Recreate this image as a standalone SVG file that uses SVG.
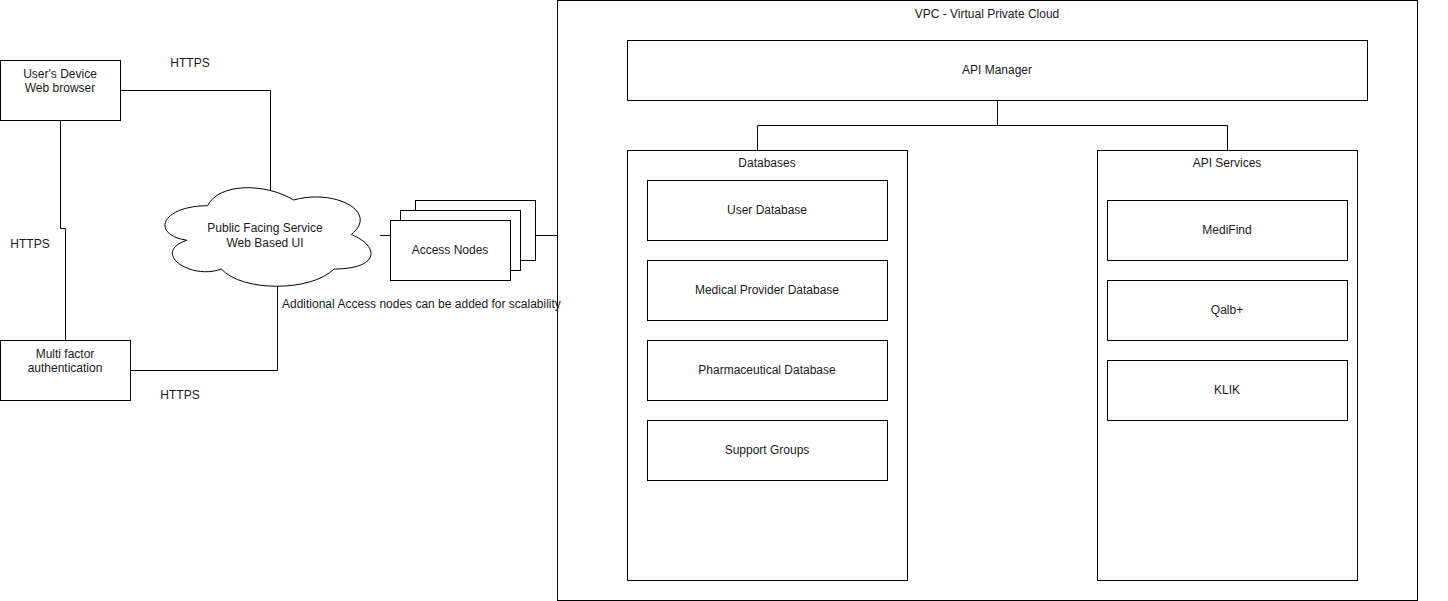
<svg xmlns="http://www.w3.org/2000/svg" width="1448" height="601" viewBox="0 0 1448 601">
<style>
.box{fill:#fff;stroke:#000;stroke-width:1}
.ln{fill:none;stroke:#000;stroke-width:1}
text{font-family:"Liberation Sans",Arial,sans-serif;font-size:12px;fill:#1a1a1a}
.c{text-anchor:middle}
</style>
<rect width="1448" height="601" fill="#fff"/>
<g id="vpc">
<rect class="box" x="557.5" y="0.5" width="860" height="600"/>
<text class="c" x="987" y="18">VPC - Virtual Private Cloud</text>
</g>
<g id="connectors">
<path class="ln" d="M120.5 90.5H270.5V195"/>
<path class="ln" d="M60.5 120V228.5H65.5V340"/>
<path class="ln" d="M130 370.5H277.5V285"/>
<path class="ln" d="M380 235.5H390"/>
<path class="ln" d="M535 235.5H557"/>
<path class="ln" d="M997.5 100V125.5H757.5V150M997.5 125.5H1227.5V150"/>
</g>
<g id="users-device">
<rect class="box" x="0.5" y="60.5" width="120" height="60"/>
<text class="c" x="60" y="78">User's Device</text>
<text class="c" x="60" y="92">Web browser</text>
</g>
<g id="mfa">
<rect class="box" x="0.5" y="340.5" width="130" height="60"/>
<text class="c" x="65" y="358">Multi factor</text>
<text class="c" x="65" y="372">authentication</text>
</g>
<g id="cloud">
<path class="box" transform="translate(150,177)" d="M57.5 28.75C11.5 28.75 0 57.5 36.8 63.25C0 75.9 41.4 103.5 71.3 92C92 115 161 115 184 92C230 92 230 69 201.25 57.5C230 34.5 184 11.5 143.75 23C115 5.75 69 5.75 57.5 28.75Z"/>
<text class="c" x="265" y="232">Public Facing Service</text>
<text class="c" x="265" y="247">Web Based UI</text>
</g>
<g id="access-nodes">
<rect class="box" x="415.5" y="200.5" width="120" height="60"/>
<rect class="box" x="400.5" y="210.5" width="120" height="60"/>
<rect class="box" x="390.5" y="220.5" width="120" height="60"/>
<text class="c" x="450" y="254">Access Nodes</text>
</g>
<g id="labels">
<text class="c" x="190" y="67">HTTPS</text>
<text class="c" x="30" y="248">HTTPS</text>
<text class="c" x="180" y="399">HTTPS</text>
<text x="282" y="308">Additional Access nodes can be added for scalability</text>
</g>
<g id="api-manager">
<rect class="box" x="627.5" y="40.5" width="740" height="60"/>
<text class="c" x="997" y="74">API Manager</text>
</g>
<g id="databases">
<rect class="box" x="627.5" y="150.5" width="280" height="430"/>
<text class="c" x="767" y="167">Databases</text>
</g>
<g id="user-db">
<rect class="box" x="647.5" y="180.5" width="240" height="60"/>
<text class="c" x="767" y="214">User Database</text>
</g>
<g id="medical-db">
<rect class="box" x="647.5" y="260.5" width="240" height="60"/>
<text class="c" x="767" y="294">Medical Provider Database</text>
</g>
<g id="pharma-db">
<rect class="box" x="647.5" y="340.5" width="240" height="60"/>
<text class="c" x="767" y="374">Pharmaceutical Database</text>
</g>
<g id="support-groups">
<rect class="box" x="647.5" y="420.5" width="240" height="60"/>
<text class="c" x="767" y="454">Support Groups</text>
</g>
<g id="api-services">
<rect class="box" x="1097.5" y="150.5" width="260" height="430"/>
<text class="c" x="1227" y="167">API Services</text>
</g>
<g id="medifind">
<rect class="box" x="1107.5" y="200.5" width="240" height="60"/>
<text class="c" x="1227" y="234">MediFind</text>
</g>
<g id="qalb">
<rect class="box" x="1107.5" y="280.5" width="240" height="60"/>
<text class="c" x="1227" y="314">Qalb+</text>
</g>
<g id="klik">
<rect class="box" x="1107.5" y="360.5" width="240" height="60"/>
<text class="c" x="1227" y="394">KLIK</text>
</g>
</svg>
